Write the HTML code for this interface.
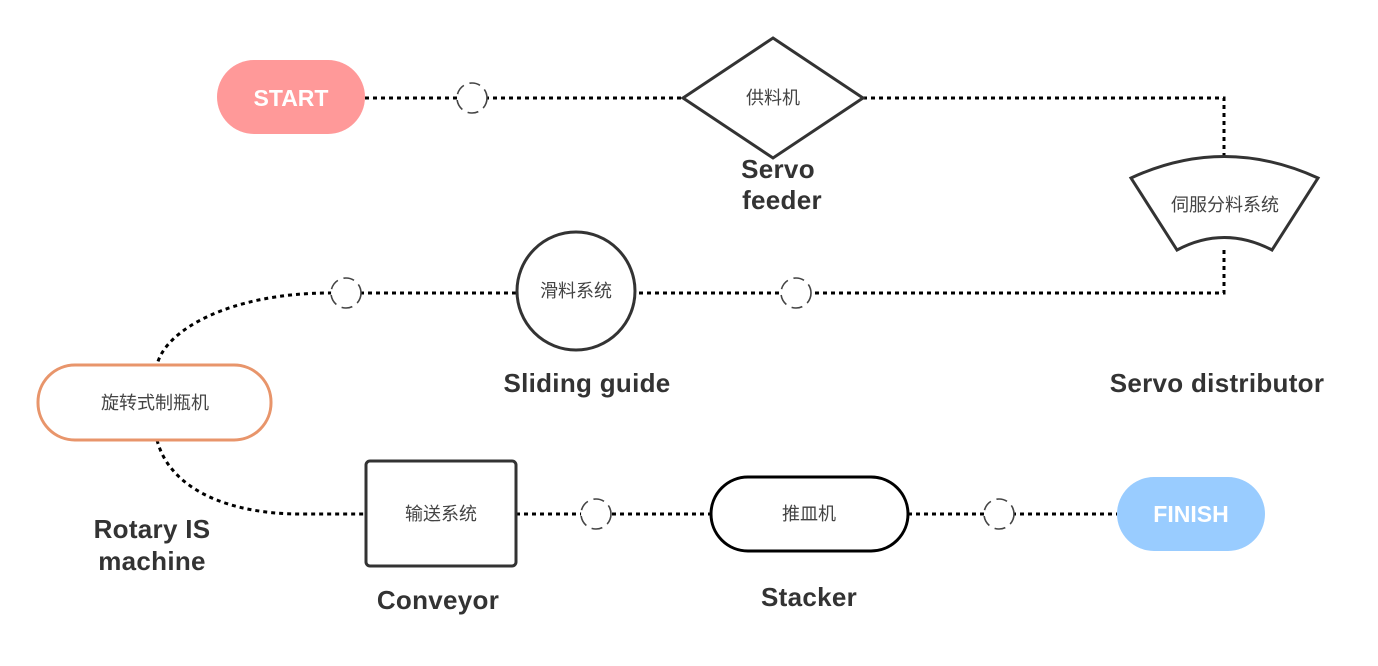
<!DOCTYPE html>
<html><head><meta charset="utf-8"><style>
html,body{margin:0;padding:0;background:#fff;}
svg{display:block;}
.cn{font-family:"Liberation Sans","Noto Sans CJK SC",sans-serif;font-size:18px;fill:#444;}
.lb{font-family:"Liberation Sans","Noto Sans CJK SC",sans-serif;font-size:26px;font-weight:bold;fill:#333;letter-spacing:0.3px;}
.dl{fill:none;stroke:#000;stroke-width:3;stroke-dasharray:4 4;}
.dc{fill:#fff;stroke:#444;stroke-width:1.6;stroke-dasharray:11 6;}
</style></head><body>
<svg width="1378" height="666" viewBox="0 0 1378 666">
<path class="dl" d="M365 98 H683"/>
<path class="dl" d="M863 98 H1224 V157"/>
<path class="dl" d="M1224 250 V293 H637"/>
<path class="dl" d="M516 293 H330 C230 293 165 330 157 365"/>
<path class="dl" d="M157 440 C170 490 230 514 300 514 H366"/>
<path class="dl" d="M516 514 H711"/>
<path class="dl" d="M908 514 H1117"/>
<circle class="dc" cx="472" cy="98" r="15"/>
<circle class="dc" cx="796" cy="293" r="15"/>
<circle class="dc" cx="346" cy="293" r="15"/>
<circle class="dc" cx="596" cy="514" r="15"/>
<circle class="dc" cx="999" cy="514" r="15"/>
<rect x="217" y="60" width="148" height="74" rx="37" fill="#FF9999"/>
<text x="291" y="106" text-anchor="middle" font-family="Liberation Sans,sans-serif" font-size="23" font-weight="bold" fill="#fff">START</text>
<polygon points="773,38 863,98 773,158 683,98" fill="#fff" stroke="#333" stroke-width="3"/>
<text class="cn" x="773" y="104" text-anchor="middle">供料机</text>
<text class="lb" x="778" y="178" text-anchor="middle">Servo</text>
<text class="lb" x="782" y="209" text-anchor="middle">feeder</text>
<path d="M1131 178 Q1224 135 1318 178 L1272 250 Q1224 225 1177 250 Z" fill="#fff" stroke="#333" stroke-width="3"/>
<text class="cn" x="1225" y="211" text-anchor="middle">伺服分料系统</text>
<text class="lb" x="1217" y="392" text-anchor="middle">Servo distributor</text>
<circle cx="576" cy="291" r="59" fill="#fff" stroke="#333" stroke-width="3"/>
<text class="cn" x="576" y="297" text-anchor="middle">滑料系统</text>
<text class="lb" x="587" y="392" text-anchor="middle">Sliding guide</text>
<rect x="38" y="365" width="233" height="75" rx="37" fill="#fff" stroke="#E8956B" stroke-width="3"/>
<text class="cn" x="155" y="409" text-anchor="middle">旋转式制瓶机</text>
<text class="lb" x="152" y="538" text-anchor="middle">Rotary IS</text>
<text class="lb" x="152" y="570" text-anchor="middle">machine</text>
<rect x="366" y="461" width="150" height="105" rx="4" fill="#fff" stroke="#333" stroke-width="3"/>
<text class="cn" x="441" y="520" text-anchor="middle">输送系统</text>
<text class="lb" x="438" y="609" text-anchor="middle">Conveyor</text>
<rect x="711" y="477" width="197" height="74" rx="37" fill="#fff" stroke="#000" stroke-width="3"/>
<text class="cn" x="809" y="520" text-anchor="middle">推皿机</text>
<text class="lb" x="809" y="606" text-anchor="middle">Stacker</text>
<rect x="1117" y="477" width="148" height="74" rx="37" fill="#99CCFF"/>
<text x="1191" y="522" text-anchor="middle" font-family="Liberation Sans,sans-serif" font-size="23" font-weight="bold" fill="#fff">FINISH</text>
</svg>
</body></html>
